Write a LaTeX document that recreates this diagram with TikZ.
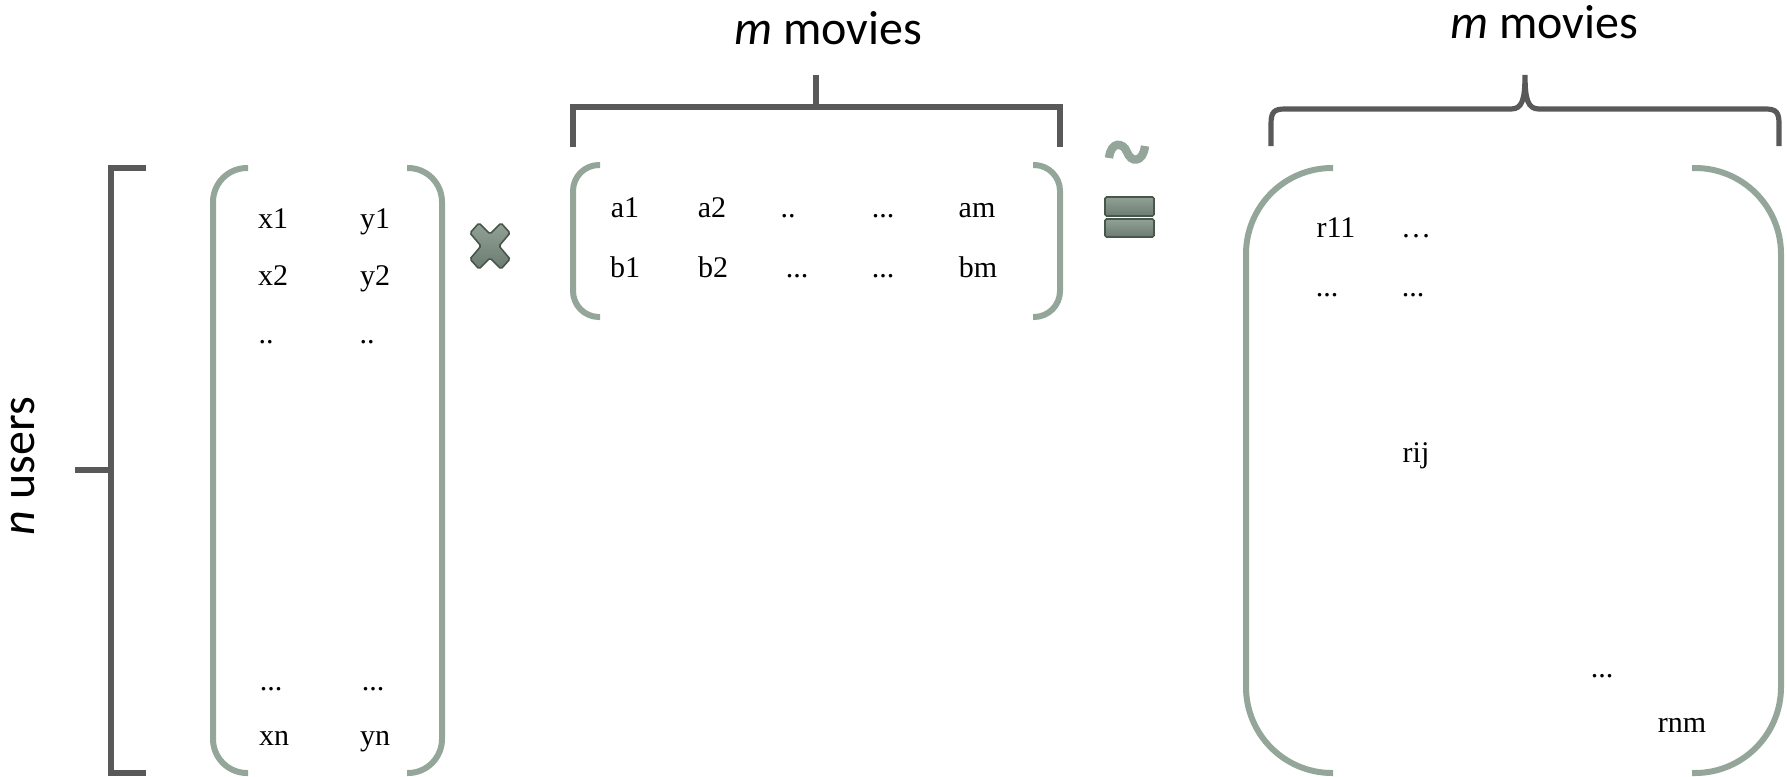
\documentclass[tikz,border=0pt]{standalone}
\usepackage{fontspec}
\setmainfont{Liberation Serif}
\newfontfamily\captionfont{Carlito}
\definecolor{matgray}{RGB}{148,165,154}
\definecolor{bargray}{RGB}{89,89,89}
\definecolor{symdark}{RGB}{72,86,76}
\definecolor{symlight}{RGB}{146,161,150}
\definecolor{symmid}{RGB}{108,124,113}

\begin{document}
\begin{tikzpicture}[x=0.5pt,y=-0.5pt]
\tikzset{entry/.style = {anchor=base, inner sep=0pt, font=\fontsize{15}{18}\selectfont},
  caption/.style = {anchor=base, inner sep=0pt, font=\captionfont\fontsize{24}{28}\selectfont},
  paren/.style = {draw=matgray, line width=3pt},
  brack/.style = {draw=bargray, line width=2.6pt},
  symbol/.style = {draw=symdark, line width=0.8pt, rounded corners=0.8pt, top color=symlight, bottom color=symmid}}
\useasboundingbox (0,0) rectangle (1787,776);

% captions
\node[caption] (moviesA) at (828,44) {\textit{m} movies};
\node[caption] (moviesB) at (1544,39) {\textit{m} movies};
\node[caption, rotate=90] (users) at (34,466) {\textit{n} users};

% brackets
\draw[brack] (146,168) -- (111,168) -- (111,773) -- (146,773); \draw[brack] (75,470) -- (111,470);
\draw[brack] (573,147) -- (573,107) -- (1060,107) -- (1060,147); \draw[brack] (816,107) -- (816,75);
\draw[brack] (1271,146) -- (1271,124) .. controls (1271,112) and (1274,109) .. (1285,109) -- (1511,109)
  .. controls (1522,109) and (1525,100) .. (1525,75) .. controls (1525,100) and (1528,109) .. (1539,109)
  -- (1765,109) .. controls (1776,109) and (1779,112) .. (1779,124) -- (1779,146);

% user matrix
\draw[paren, rounded corners=17pt] (248,168) -- (213,168) -- (213,773) -- (248,773);
\draw[paren, rounded corners=17pt] (407,168) -- (442,168) -- (442,773) -- (407,773);
\node[entry] (x1) at (273,228) {x1}; \node[entry] (y1) at (375,228) {y1};
\node[entry] (x2) at (273,285) {x2}; \node[entry] (y2) at (375,285) {y2};
\node[entry] (xd) at (266,343) {..}; \node[entry] (yd) at (367,343) {..};
\node[entry] (xe) at (271,690) {...}; \node[entry] (ye) at (373,690) {...};
\node[entry] (xn) at (274,745) {xn}; \node[entry] (yn) at (375,745) {yn};

% times
\begin{scope}[shift={(490,246)}]
\filldraw[symbol] (-11,-23) -- (0,-12) -- (11,-23) -- (20,-13) -- (9,0) -- (20,13) -- (11,23)
  -- (0,12) -- (-11,23) -- (-20,13) -- (-9,0) -- (-20,-13) -- cycle;
\end{scope}

% movie matrix
\draw[paren, rounded corners=13pt] (600,165) -- (573,165) -- (573,317) -- (600,317);
\draw[paren, rounded corners=13pt] (1033,165) -- (1060,165) -- (1060,317) -- (1033,317);
\node[entry] (a1) at (625,217) {a1}; \node[entry] (a2) at (712,217) {a2}; \node[entry] (ad) at (788,217) {..};
\node[entry] (ae) at (883,217) {...}; \node[entry] (am) at (977,217) {am};
\node[entry] (b1) at (625,277) {b1}; \node[entry] (b2) at (713,277) {b2}; \node[entry] (bd) at (797,277) {...};
\node[entry] (be) at (883,277) {...}; \node[entry] (bm) at (978,277) {bm};

% approx
\draw[matgray, line width=4.2pt] (1109,158) .. controls (1111,141) and (1123,142) .. (1127,152)
  .. controls (1131,163) and (1143,163) .. (1145,146);
\filldraw[symbol] (1105,197) rectangle (1154,216);
\filldraw[symbol] (1105,219) rectangle (1154,237);

% rating matrix
\draw[paren, rounded corners=43pt] (1333,168) -- (1246,168) -- (1246,773) -- (1333,773);
\draw[paren, rounded corners=43pt] (1692,168) -- (1781,168) -- (1781,773) -- (1692,773);
\node[entry] (r11) at (1336,237) {r11}; \node[entry] (r12) at (1416,237) {…};
\node[entry] (r21) at (1327,296) {...}; \node[entry] (r22) at (1413,296) {...};
\node[entry] (rij) at (1416,462) {rij};
\node[entry] (rd) at (1602,677) {...}; \node[entry] (rnm) at (1682,732) {rnm};
\end{tikzpicture}
\end{document}
